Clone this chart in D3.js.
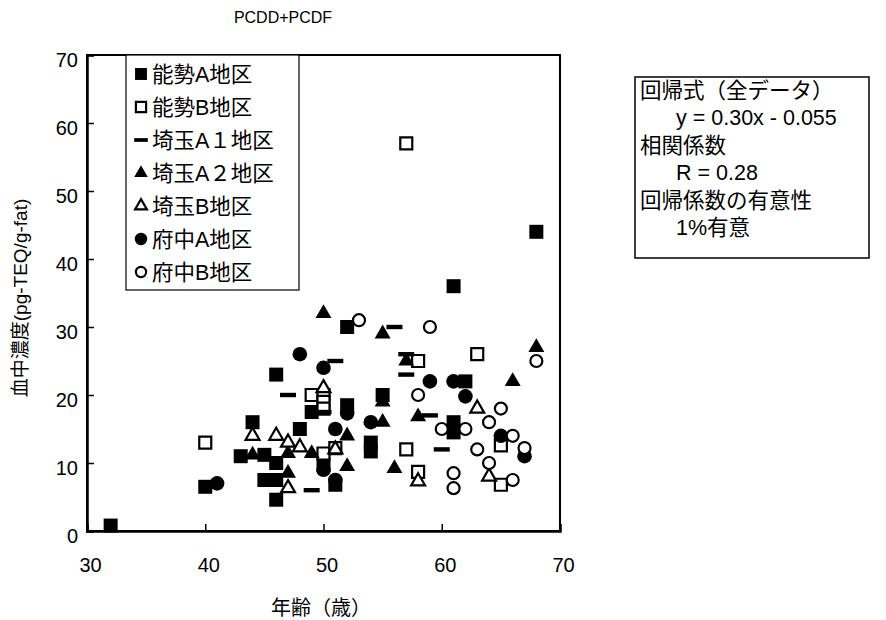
<!DOCTYPE html>
<html><head><meta charset="utf-8">
<script src="https://cdn.jsdelivr.net/npm/d3@7"></script>
<style>
body{margin:0;background:#fff}
text{font-family:"Liberation Sans",Arial,"Noto Sans CJK JP",sans-serif;fill:#000}
</style>
</head><body>
<svg id="chart" width="886" height="620"></svg>
<script>
// Blood concentration vs. age, one array per survey district: [age, pg-TEQ/g-fat]
const noseA = [[32,0.8],[40,6.5],[43,11],[44,16],[45,11.2],[45,7.5],[46,23],[46,10],[46,7.5],[46,4.6],
  [48,15],[49,17.5],[50,9.7],[51,6.8],[52,30],[52,18.5],[54,13],[54,11.7],[55,20],[61,36],[61,16],[61,14.5],
  [62,22],[68,44]];
const noseB = [[40,13],[49,20],[50,20],[50,19],[50,18],[50,11.4],[51,12.2],[57,57],[57,12],[58,25],[58,8.7],
  [63,26],[65,12.6],[65,6.8]];
const saitamaA1 = [[47,20],[49,6],[50,17.5],[51,25],[56,30],[57,26],[57,23],[59,17],[60,12]];
const saitamaA2 = [[44,11.2],[47,11.4],[47,8.5],[49,11.4],[50,32],[52,14],[52,9.5],[55,29],[55,19],[55,16],
  [56,9.2],[57,25],[58,16.8],[66,22],[68,27]];
const saitamaB = [[44,14],[46,14],[47,13],[48,12.3],[47,6.3],[50,21],[51,12],[58,7.3],[63,18],[64,8]];
const fuchuA = [[41,7],[48,26],[50,24],[50,9],[51,15],[51,7.5],[52,17.3],[54,16],[59,22],[61,22],[62,19.8],
  [65,14],[67,11]];
const fuchuB = [[53,31],[58,20],[59,30],[60,15],[62,15],[61,8.5],[61,6.3],[63,12],[64,16],[64,10],[65,18],
  [66,14],[66,7.5],[67,12.2],[68,25]];

const seriesNames = ["能勢A地区","能勢B地区","埼玉A１地区","埼玉A２地区","埼玉B地区","府中A地区","府中B地区"];
const seriesData = [noseA, noseB, saitamaA1, saitamaA2, saitamaB, fuchuA, fuchuB];
const seriesShapes = ["squareFilled","squareOpen","dash","triangleFilled","triangleOpen","circleFilled","circleOpen"];

const xTicks = [30,40,50,60,70];
const yTicks = [0,10,20,30,40,50,60,70];
const regressionLines = [
  {text:"回帰式（全データ）", indent:false},
  {text:"y = 0.30x  -  0.055", indent:true},
  {text:"相関係数", indent:false},
  {text:"R = 0.28", indent:true},
  {text:"回帰係数の有意性", indent:false},
  {text:"1%有意", indent:true}
];

const svg = d3.select("#chart");
const plot = {left:87, right:560, top:55, bottom:531};
const x = d3.scaleLinear().domain([30,70]).range([plot.left, plot.right]);
const y = d3.scaleLinear().domain([0,70]).range([plot.bottom, plot.top]);

// marker painter
function marker(sel, shape, scale) {
  const k = scale || 1;
  if (shape === "dash") {
    sel.append("rect").attr("x",-8*k).attr("y",-2.2*k).attr("width",16*k).attr("height",4.4*k).attr("fill","#000");
    return;
  }
  const open = shape.endsWith("Open");
  let type, size;
  if (shape.startsWith("square")) { type = d3.symbolSquare; size = open ? 12*12 : 14*14; }
  else if (shape.startsWith("triangle")) { type = d3.symbolTriangle; size = open ? 84 : 110; }
  else { type = d3.symbolCircle; size = open ? Math.PI*6*6 : Math.PI*7.3*7.3; }
  sel.append("path")
    .attr("d", d3.symbol().type(type).size(size*k*k)())
    .attr("fill", open ? "#fff" : "#000")
    .attr("stroke", open ? "#000" : "none")
    .attr("stroke-width", open ? 2.2 : 0);
}

// frame
svg.append("rect").attr("x",plot.left).attr("y",plot.top)
  .attr("width",plot.right-plot.left).attr("height",plot.bottom-plot.top)
  .attr("fill","none").attr("stroke","#000").attr("stroke-width",2);

// axes with inward ticks
const xAxis = d3.axisBottom(x).tickValues(xTicks).tickSize(-7).tickPadding(27).tickFormat(d3.format("d"));
const gx = svg.append("g").attr("transform",`translate(0,${plot.bottom})`).call(xAxis);
const yAxis = d3.axisLeft(y).tickValues(yTicks).tickSize(-7).tickPadding(9).tickFormat(d3.format("d"));
const gy = svg.append("g").attr("transform",`translate(${plot.left},0)`).call(yAxis);
[gx, gy].forEach(g => {
  g.select(".domain").attr("stroke","#000").attr("stroke-width",2.5);
  g.selectAll(".tick line").attr("stroke","#000").attr("stroke-width",1.5);
  g.selectAll(".tick text").attr("font-size",20).attr("font-family",'"Liberation Sans",Arial,sans-serif');
});
gx.selectAll(".tick text").attr("dx","3");
gy.selectAll(".tick text").attr("dy","0.55em");

// legend
const legend = svg.append("g");
legend.append("rect").attr("x",126).attr("y",plot.top).attr("width",173).attr("height",235)
  .attr("fill","#fff").attr("stroke","#000").attr("stroke-width",1.2);

// points, series drawn in legend order
seriesData.forEach((pts, i) => {
  const g = svg.append("g");
  pts.forEach(p => {
    const m = g.append("g").attr("transform",`translate(${x(p[0])},${y(p[1])})`);
    marker(m, seriesShapes[i]);
  });
});

seriesNames.forEach((name, i) => {
  const cy = 74 + i*33;
  const m = legend.append("g").attr("transform",`translate(141,${cy})`);
  marker(m, seriesShapes[i], 0.85);
  legend.append("text").attr("x",152).attr("y",cy).attr("dy","0.36em")
    .attr("font-size",21.5).text(name);
});

// regression summary box
const box = svg.append("g");
box.append("rect").attr("x",635).attr("y",77).attr("width",234).attr("height",181)
  .attr("fill","#fff").attr("stroke","#000").attr("stroke-width",1.5);
regressionLines.forEach((l, i) => {
  box.append("text").attr("x", l.indent ? 676 : 640).attr("y", 90 + i*27.5).attr("dy","0.36em")
    .attr("font-size",21.5).text(l.text);
});

// titles
svg.append("text").attr("x",283).attr("y",17).attr("dy","0.36em").attr("text-anchor","middle")
  .attr("font-size",16).text("PCDD+PCDF");
svg.append("text").attr("x",321).attr("y",608).attr("dy","0.36em").attr("text-anchor","middle")
  .attr("font-size",20).text("年齢（歳）");
svg.append("text").attr("transform","translate(20,298) rotate(-90)").attr("dy","0.36em")
  .attr("text-anchor","middle").attr("font-size",19).text("血中濃度(pg-TEQ/g-fat)");
</script>
</body></html>
